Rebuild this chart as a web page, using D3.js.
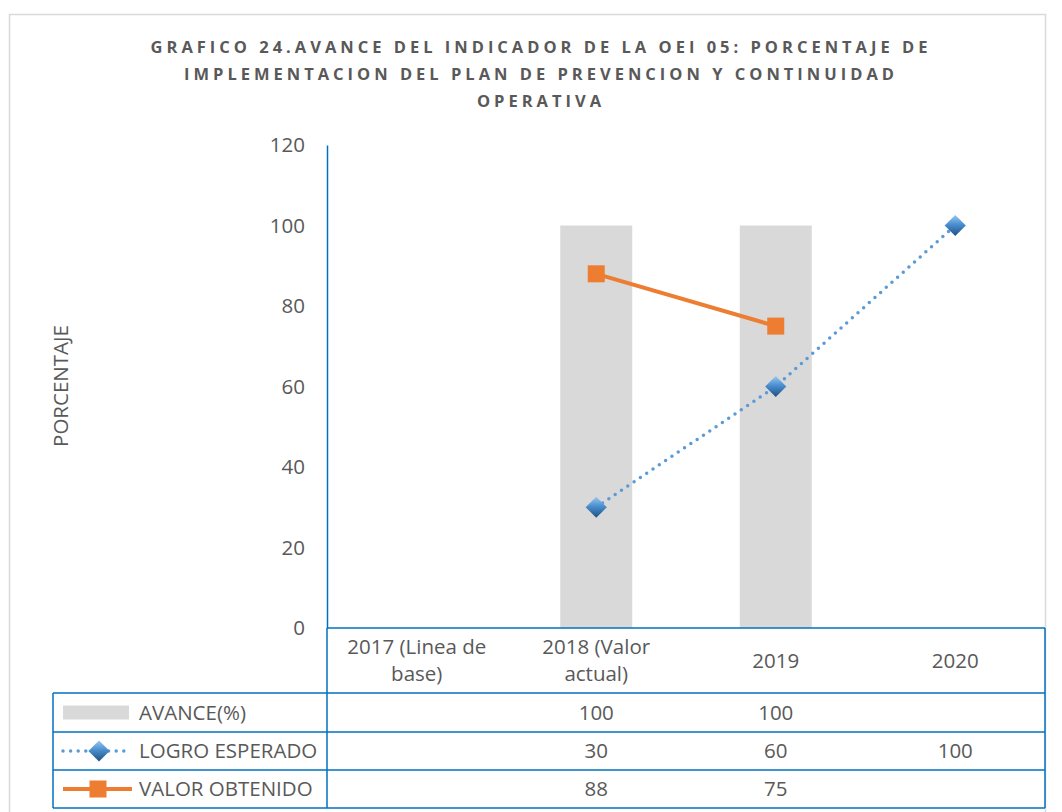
<!DOCTYPE html>
<html>
<head>
<meta charset="utf-8">
<script src="https://cdn.jsdelivr.net/npm/d3@7"></script>
<style>
  html, body { margin: 0; padding: 0; background: #fff; }
  svg text { font-family: "Open Sans", sans-serif; fill: #595959; }
</style>
</head>
<body>
<div id="chart"></div>
<script>
// Data
const categories = ["2017 (Linea de base)", "2018 (Valor actual)", "2019", "2020"];
const categoryLines = [["2017 (Linea de", "base)"], ["2018 (Valor", "actual)"], ["2019"], ["2020"]];
const avance = [null, 100, 100, null];
const logroEsperado = [null, 30, 60, 100];
const valorObtenido = [null, 88, 75, null];
const seriesNames = ["AVANCE(%)", "LOGRO ESPERADO", "VALOR OBTENIDO"];
const yTicks = [0, 20, 40, 60, 80, 100, 120];
const titleLines = [
  "GRAFICO 24.AVANCE DEL INDICADOR DE LA OEI 05: PORCENTAJE DE",
  "IMPLEMENTACION DEL PLAN DE PREVENCION Y CONTINUIDAD",
  "OPERATIVA"
];

const W = 1062, H = 812;
const blue = "#0070C0", grey = "#D9D9D9", orange = "#ED7D31", dotBlue = "#5B9BD5";
const fs = "20.5px";

const svg = d3.select("#chart").append("svg")
  .attr("width", W).attr("height", H);

const defs = svg.append("defs");
const grad = defs.append("linearGradient").attr("id", "diam")
  .attr("x1", "0").attr("y1", "0").attr("x2", "1").attr("y2", "1");
grad.append("stop").attr("offset", "0%").attr("stop-color", "#9cc8f0");
grad.append("stop").attr("offset", "45%").attr("stop-color", "#4a8fd0");
grad.append("stop").attr("offset", "100%").attr("stop-color", "#1f4f80");

// outer chart border
svg.append("rect")
  .attr("x", 9.5).attr("y", 14.5).attr("width", 1036).attr("height", 820)
  .attr("fill", "none").attr("stroke", grey).attr("stroke-width", 1.5);

// title
svg.append("g").selectAll("text")
  .data(titleLines)
  .join("text")
  .attr("x", 541)
  .attr("y", (d, i) => 53 + i * 27)
  .attr("text-anchor", "middle")
  .style("font-size", "16.5px")
  .style("font-weight", "bold")
  .style("letter-spacing", "4px")
  .text(d => d);

// scales
const plot = { left: 327, right: 1045, top: 145, bottom: 628 };
const x = d3.scaleBand().domain(categories).range([plot.left, plot.right]);
const y = d3.scaleLinear().domain([0, 120]).range([plot.bottom, plot.top]);
const barW = 72;

// bars
svg.append("g").selectAll("rect")
  .data(categories.map((c, i) => ({ c, v: avance[i] })).filter(d => d.v != null))
  .join("rect")
  .attr("x", d => x(d.c) + x.bandwidth() / 2 - barW / 2)
  .attr("y", d => y(d.v))
  .attr("width", barW)
  .attr("height", d => y(0) - y(d.v))
  .attr("fill", grey);

// y axis
const yAxis = d3.axisLeft(y).tickValues(yTicks).tickSize(0).tickPadding(22);
const ya = svg.append("g").attr("transform", `translate(${plot.left},0)`).call(yAxis);
ya.select(".domain").attr("stroke", blue).attr("stroke-width", 1.5);
ya.selectAll("text").style("font-size", fs).style("font-family", "'Open Sans', sans-serif").attr("fill", "#595959");

svg.append("text")
  .attr("transform", "translate(68,386) rotate(-90)")
  .attr("text-anchor", "middle")
  .style("font-size", fs)
  .text("PORCENTAJE");

// lines
const cx = c => x(c) + x.bandwidth() / 2;
const logroPts = categories.map((c, i) => ({ c, v: logroEsperado[i] })).filter(d => d.v != null);
const valorPts = categories.map((c, i) => ({ c, v: valorObtenido[i] })).filter(d => d.v != null);
const line = d3.line().x(d => cx(d.c)).y(d => y(d.v));

svg.append("path").datum(logroPts)
  .attr("d", line).attr("fill", "none")
  .attr("stroke", dotBlue).attr("stroke-width", 3.5)
  .attr("stroke-linecap", "round").attr("stroke-dasharray", "0 7.6");

svg.append("path").datum(valorPts)
  .attr("d", line).attr("fill", "none")
  .attr("stroke", orange).attr("stroke-width", 4);

function diamond(g, px, py) {
  g.append("rect")
    .attr("x", -7.5).attr("y", -7.5).attr("width", 15).attr("height", 15)
    .attr("fill", "url(#diam)")
    .attr("transform", `translate(${px},${py}) rotate(45)`);
}
function square(g, px, py) {
  g.append("rect")
    .attr("x", px - 8.5).attr("y", py - 8.5).attr("width", 17).attr("height", 17)
    .attr("fill", orange);
}

const markers = svg.append("g");
logroPts.forEach(d => diamond(markers, cx(d.c), y(d.v)));
valorPts.forEach(d => square(markers, cx(d.c), y(d.v)));

// data table
const tbl = svg.append("g");
const rowY = [628, 693, 732, 770, 808];
const tLeft = 53;
const ln = (x1, y1, x2, y2) => tbl.append("line")
  .attr("x1", x1).attr("y1", y1).attr("x2", x2).attr("y2", y2)
  .attr("stroke", blue).attr("stroke-width", 1.5);

ln(plot.left, rowY[0], plot.right, rowY[0]);
rowY.slice(1).forEach(ry => ln(tLeft, ry, plot.right, ry));
ln(tLeft, rowY[1], tLeft, rowY[4]);
ln(plot.left, rowY[0], plot.left, rowY[4]);
ln(plot.right, rowY[0], plot.right, rowY[4]);

// category labels
categories.forEach((c, i) => {
  const lines = categoryLines[i];
  const midY = (rowY[0] + rowY[1]) / 2;
  lines.forEach((t, j) => {
    tbl.append("text")
      .attr("x", cx(c))
      .attr("y", midY + (j - (lines.length - 1) / 2) * 27 + 7)
      .attr("text-anchor", "middle")
      .style("font-size", fs)
      .text(t);
  });
});

// value rows
const rowsData = [avance, logroEsperado, valorObtenido];
rowsData.forEach((vals, r) => {
  const my = (rowY[r + 1] + rowY[r + 2]) / 2;
  vals.forEach((v, i) => {
    if (v == null) return;
    tbl.append("text")
      .attr("x", cx(categories[i]))
      .attr("y", my + 7)
      .attr("text-anchor", "middle")
      .style("font-size", fs)
      .text(v);
  });
  tbl.append("text")
    .attr("x", 139)
    .attr("y", my + 7)
    .style("font-size", fs)
    .text(seriesNames[r]);
});

// legend keys
const k1 = (rowY[1] + rowY[2]) / 2;
tbl.append("rect").attr("x", 63).attr("y", k1 - 7).attr("width", 66).attr("height", 14).attr("fill", grey);
const k2 = (rowY[2] + rowY[3]) / 2;
tbl.append("line").attr("x1", 63).attr("x2", 130).attr("y1", k2).attr("y2", k2)
  .attr("stroke", dotBlue).attr("stroke-width", 3.5)
  .attr("stroke-linecap", "round").attr("stroke-dasharray", "0 7.6");
diamond(tbl, 99, k2);
const k3 = (rowY[3] + rowY[4]) / 2;
tbl.append("line").attr("x1", 63).attr("x2", 132).attr("y1", k3).attr("y2", k3)
  .attr("stroke", orange).attr("stroke-width", 4);
square(tbl, 98, k3);
</script>
</body>
</html>
